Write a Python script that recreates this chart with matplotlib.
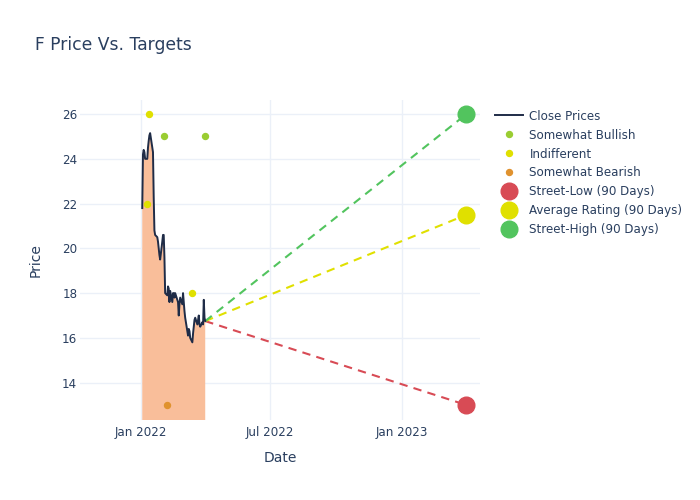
import numpy as np
import pandas as pd
import matplotlib.pyplot as plt
import matplotlib.dates as mdates

# close prices, trading days Jan 3 - Apr 1 2022
dates = pd.bdate_range("2022-01-03", "2022-04-01")
dates = dates[~dates.isin(pd.to_datetime(["2022-01-17", "2022-02-21"]))]
closes = [21.8, 24.2, 24.4, 24.3, 24.0, 24.0, 24.5, 24.8, 25.05, 25.15,
          24.3, 22.3, 20.8, 20.6, 20.5, 20.3, 20.0, 19.7, 19.5, 20.3,
          20.6, 20.6, 19.6, 18.0, 17.9, 18.3, 18.2, 17.6, 18.1, 17.6,
          18.0, 18.0, 17.8, 18.0, 17.6, 17.0, 17.5, 17.8, 17.5, 18.0,
          17.6, 17.2, 16.9, 16.3, 16.1, 16.4, 16.3, 16.0, 15.8, 16.2,
          16.5, 16.8, 16.9, 16.6, 16.8, 17.0, 16.6, 16.5, 16.7, 16.6,
          17.7, 16.9, 16.75]

# analyst ratings
bullish_dates = pd.to_datetime(["2022-02-03", "2022-03-31"])
bullish_vals = [25.0, 25.0]
indiff_dates = pd.to_datetime(["2022-01-10", "2022-01-13", "2022-03-14"])
indiff_vals = [22.0, 26.0, 18.0]
bearish_dates = pd.to_datetime(["2022-02-07"])
bearish_vals = [13.0]

# 90 day targets
target_date = pd.Timestamp("2023-04-01")
street_low = 13.0
avg_rating = 21.5
street_high = 26.0

txt = "#2a3f5f"
plt.rcParams['font.family'] = ['DejaVu Sans']

fig = plt.figure(figsize=(7, 5), dpi=100)
ax = fig.add_axes([80/700, 0.16, 400/700, 0.64])

ax.fill_between(dates, closes, 0, color="#f9be9a", lw=0, zorder=1)
ax.plot(dates, closes, color="#1f2c47", lw=1.4, label="Close Prices", zorder=3)

ax.plot(bullish_dates, bullish_vals, "o", color="#9acd32", ms=4.3, label="Somewhat Bullish", zorder=4)
ax.plot(indiff_dates, indiff_vals, "o", color="#e0e000", ms=4.3, label="Indifferent", zorder=4)
ax.plot(bearish_dates, bearish_vals, "o", color="#e0922f", ms=4.3, label="Somewhat Bearish", zorder=4)

last_d, last_v = dates[-1], closes[-1]
targets = [(street_low, "#d84b55", "Street-Low (90 Days)"),
           (avg_rating, "#e0e000", "Average Rating (90 Days)"),
           (street_high, "#52c45e", "Street-High (90 Days)")]
for val, col, lab in targets:
    ax.plot([last_d, target_date], [last_v, val], ls=(0, (4, 3)), color=col, lw=1.5, zorder=2)
    ax.plot([target_date], [val], "o", color=col, ms=12, label=lab, zorder=5)

ax.set_xlim(pd.Timestamp("2021-10-08"), pd.Timestamp("2023-04-20"))
ax.set_ylim(12.33, 26.63)
ax.set_yticks([14, 16, 18, 20, 22, 24, 26])
ax.xaxis.set_major_locator(mdates.MonthLocator(bymonth=[1, 7]))
ax.xaxis.set_major_formatter(mdates.DateFormatter("%b %Y"))
ax.grid(True, color="#ebf0f8", lw=1)
ax.set_axisbelow(True)
for s in ax.spines.values():
    s.set_visible(False)
ax.tick_params(length=0, labelsize=8.6, colors=txt, pad=4)
ax.tick_params(axis="y", pad=2)
ax.set_xlabel("Date", fontsize=10, color=txt, labelpad=9)
ax.set_ylabel("Price", fontsize=10, color=txt, labelpad=14)

fig.text(35/700, 1 - 45/500, "F Price Vs. Targets", fontsize=12.3, color=txt, va="center")

leg = ax.legend(loc="upper left", bbox_to_anchor=(1.025, 0.985), frameon=False,
                fontsize=8.6, labelcolor=txt, handlelength=2.4, handletextpad=0.5,
                labelspacing=0.5, borderaxespad=0)

fig.savefig("out.png", dpi=100)
